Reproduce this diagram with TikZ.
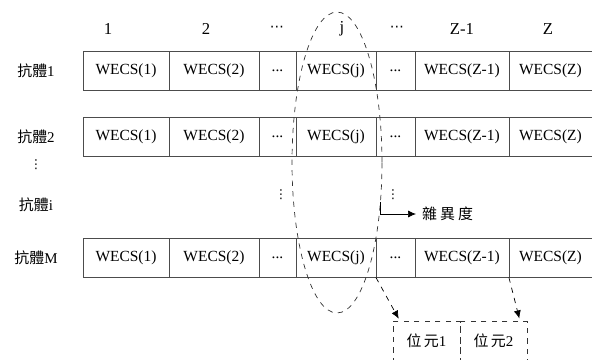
\documentclass[tikz,border=0pt]{standalone}
\usepackage{fontspec}
\setmainfont{Liberation Serif}
\newfontfamily\cjk{Noto Sans CJK TC}
\newfontfamily\sym{DejaVu Sans}
\usepackage{tikz}
\usetikzlibrary{arrows.meta,positioning,shapes.geometric}

\begin{document}
\begin{tikzpicture}[
        x=0.02cm, y=-0.02cm,
        cell/.style={draw=black!70, rectangle, outer sep=0pt, inner sep=0pt, minimum height=0.78cm, font=\fontsize{8.8}{10}\selectfont},
        rowlab/.style={font=\fontsize{8.5}{10}\selectfont},
        head/.style={font=\fontsize{9.5}{11}\selectfont},
        bit/.style={draw=black!80, dashed, rectangle, outer sep=0pt, minimum width=1.34cm, minimum height=0.8cm, font=\fontsize{8.5}{10}\selectfont},
        arrow/.style={-{Latex[length=1.6mm, width=1.4mm]}, thin},
        vdot/.style={font=\sym\fontsize{7}{8}\selectfont, inner sep=0pt}
    ]
        \clip (0,0) rectangle (592,359);

        % Cabeçalhos
        \node[head] (h1) at (108,29) {1};
        \node[head] (h2) at (206,29) {2};
        \node[head, font=\sym\fontsize{8}{10}\selectfont] (h3) at (277,29) {⋯};
        \node[head] (h4) at (342,29) {j};
        \node[head, font=\sym\fontsize{8}{10}\selectfont] (h5) at (397,29) {⋯};
        \node[head] (h6) at (462,29) {Z-1};
        \node[head] (h7) at (548,29) {Z};

        % Anticorpos
        \foreach \r/\y in {1/70.5, 2/136.5, M/258}{
            \node[rowlab] (l\r) at (36,\y) {{\cjk 抗體}\r};
            \node[cell, minimum width=1.72cm] (c\r-1) at (126,\y) {WECS(1)};
            \node[cell, minimum width=1.80cm, right=0pt of c\r-1] (c\r-2) {WECS(2)};
            \node[cell, minimum width=0.74cm, right=0pt of c\r-2] (c\r-3) {...};
            \node[cell, minimum width=1.60cm, right=0pt of c\r-3] (c\r-4) {WECS(j)};
            \node[cell, minimum width=0.78cm, right=0pt of c\r-4] (c\r-5) {...};
            \node[cell, minimum width=1.88cm, right=0pt of c\r-5] (c\r-6) {WECS(Z-1)};
            \node[cell, minimum width=1.66cm, right=0pt of c\r-6] (c\r-7) {WECS(Z)};
        }
        \node[rowlab] (li) at (36,205) {{\cjk 抗體}i};

        % Reticências
        \node[vdot] (v1) at (36,165) {⋮};
        \node[vdot] (v2) at (281,195) {⋮};
        \node[vdot] (v3) at (393,195) {⋮};

        % Coluna j
        \node[draw=black!80, dashed, ellipse, inner sep=0pt, minimum width=1.8cm, minimum height=6.02cm] (sel) at (337,162.5) {};
        \node[rowlab, anchor=west] (dv) at (416,214) {\cjk 雜\hspace{0.2em}異\hspace{0.2em}度};
        \draw[arrow] (sel.-42) |- (dv.west);

        % Bits
        \node[bit] (b1) at (426.5,341) {{\cjk 位\hspace{0.15em}元}1};
        \node[bit, right=0pt of b1] (b2) {{\cjk 位\hspace{0.15em}元}2};
        \draw[arrow, dashed, shorten >=1.5pt] (cM-5.south west) -- ([xshift=0.14cm]b1.north west);
        \draw[arrow, dashed, shorten >=1.5pt] (cM-6.south east) -- ([xshift=-0.14cm]b2.north east);
    \end{tikzpicture}
\end{document}
